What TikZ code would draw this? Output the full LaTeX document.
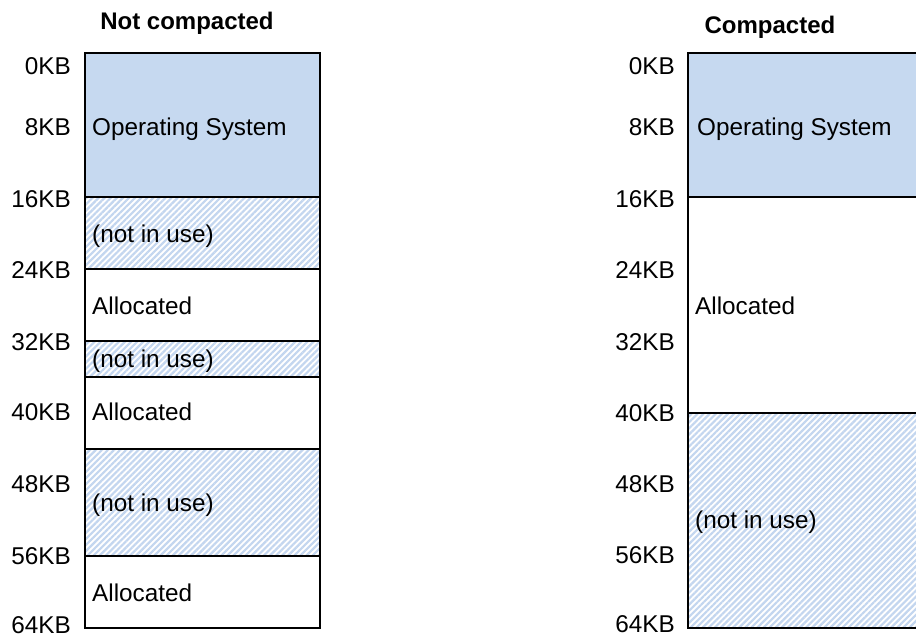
\documentclass[tikz,border=0pt]{standalone}
\usepackage{fontspec}
\setmainfont{Liberation Sans}
\usetikzlibrary{patterns.meta}
\definecolor{osblue}{HTML}{C6D9F0}
\definecolor{hatchblue}{HTML}{C3D6EF}
\tikzset{
  blk/.style={draw=black, line width=1.8pt},
  osblk/.style={blk, fill=osblue},
  freeblk/.style={blk, pattern={Lines[angle=45, distance=4.3pt, line width=2.2pt]}, pattern color=hatchblue},
  allocblk/.style={blk, fill=white},
  kb/.style={font=\fontsize{24.3}{28}\selectfont, anchor=base east, inner sep=0pt},
  lbl/.style={font=\fontsize{24.3}{28}\selectfont, anchor=base west, inner sep=0pt},
  ttl/.style={font=\fontsize{24}{28}\selectfont\bfseries, anchor=base, inner sep=0pt}
}
\begin{document}
\begin{tikzpicture}[x=1pt, y=-1pt]
\useasboundingbox[fill=white] (0,0) rectangle (916,637);
% titles
\node[ttl] (t1) at (187,29) {Not compacted};
\node[ttl] (t2) at (770,33) {Compacted};
% ---- left column (not compacted) ----
\path[osblk]    (85,53)  rectangle (320,197);
\path[freeblk]  (85,197) rectangle (320,269);
\path[allocblk] (85,269) rectangle (320,341);
\path[freeblk]  (85,341) rectangle (320,377);
\path[allocblk] (85,377) rectangle (320,449);
\path[freeblk]  (85,449) rectangle (320,556);
\path[allocblk] (85,556) rectangle (320,628);
\node[lbl] (a1) at (92,135) {Operating System};
\node[lbl] (a2) at (92,242) {(not in use)};
\node[lbl] (a3) at (92,314) {Allocated};
\node[lbl] (a4) at (92,367) {(not in use)};
\node[lbl] (a5) at (92,420) {Allocated};
\node[lbl] (a6) at (92,511) {(not in use)};
\node[lbl] (a7) at (92,601) {Allocated};
% left address labels
\node[kb] (l0) at (71,74) {0KB};
\node[kb] (l1) at (71,135) {8KB};
\node[kb] (l2) at (71,207) {16KB};
\node[kb] (l3) at (71,278) {24KB};
\node[kb] (l4) at (71,350) {32KB};
\node[kb] (l5) at (71,420) {40KB};
\node[kb] (l6) at (71,492) {48KB};
\node[kb] (l7) at (71,564) {56KB};
\node[kb] (l8) at (71,633) {64KB};
% ---- right column (compacted) ----
\fill[osblue] (688,53) rectangle (916,197);
\fill[white] (688,197) rectangle (916,413);
\fill[pattern={Lines[angle=45, distance=4.3pt, line width=2.2pt]}, pattern color=hatchblue] (688,413) rectangle (916,628);
\draw[line width=1.8pt] (916,53) -- (688,53) -- (688,628) -- (916,628);
\draw[line width=1.8pt] (688,197) -- (916,197);
\draw[line width=1.8pt] (688,413) -- (916,413);
\node[lbl] (b1) at (697,135) {Operating System};
\node[lbl] (b2) at (695,314) {Allocated};
\node[lbl] (b3) at (695,528) {(not in use)};
% right address labels
\node[kb] (r0) at (675,74) {0KB};
\node[kb] (r1) at (675,135) {8KB};
\node[kb] (r2) at (675,207) {16KB};
\node[kb] (r3) at (675,278) {24KB};
\node[kb] (r4) at (675,350) {32KB};
\node[kb] (r5) at (675,421) {40KB};
\node[kb] (r6) at (675,492) {48KB};
\node[kb] (r7) at (675,563) {56KB};
\node[kb] (r8) at (675,632) {64KB};
\end{tikzpicture}
\end{document}
